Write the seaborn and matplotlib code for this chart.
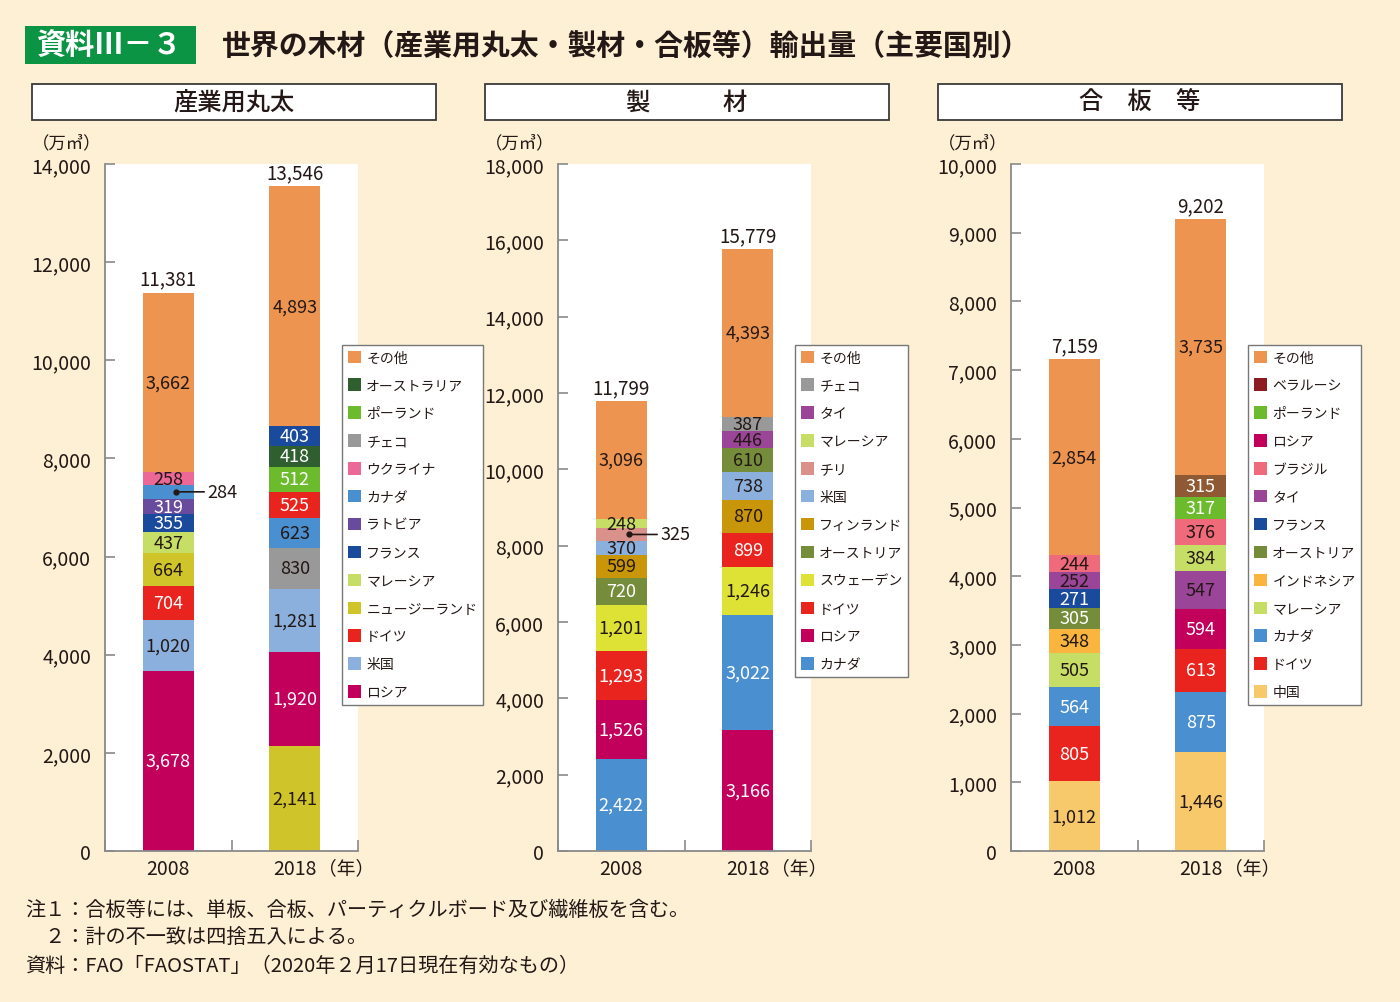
import matplotlib
matplotlib.use('Agg')
import pandas as pd
import seaborn as sns
import matplotlib.pyplot as plt
from matplotlib.patches import Rectangle, Patch
from matplotlib.ticker import FuncFormatter

sns.set_theme(style='white')
plt.rcParams['font.family'] = ['Noto Sans CJK JP', 'DejaVu Sans']

years = ['2008', '2018']

# 産業用丸太（下から順）
log_2008_names = ['ロシア', '米国', 'ドイツ', 'ニュージーランド', 'マレーシア', 'フランス',
                  'ラトビア', 'カナダ', 'ウクライナ', 'その他']
log_2008_vals = [3678, 1020, 704, 664, 437, 355, 319, 284, 258, 3662]
log_2018_names = ['ニュージーランド', 'ロシア', '米国', 'チェコ', 'カナダ', 'ドイツ',
                  'ポーランド', 'オーストラリア', 'フランス', 'その他']
log_2018_vals = [2141, 1920, 1281, 830, 623, 525, 512, 418, 403, 4893]
log_totals = [11381, 13546]
log_legend = ['その他', 'オーストラリア', 'ポーランド', 'チェコ', 'ウクライナ', 'カナダ', 'ラトビア',
              'フランス', 'マレーシア', 'ニュージーランド', 'ドイツ', '米国', 'ロシア']

# 製材
lumber_2008_names = ['カナダ', 'ロシア', 'ドイツ', 'スウェーデン', 'オーストリア', 'フィンランド',
                     '米国', 'チリ', 'マレーシア', 'その他']
lumber_2008_vals = [2422, 1526, 1293, 1201, 720, 599, 370, 325, 248, 3096]
lumber_2018_names = ['ロシア', 'カナダ', 'スウェーデン', 'ドイツ', 'フィンランド', '米国',
                     'オーストリア', 'タイ', 'チェコ', 'その他']
lumber_2018_vals = [3166, 3022, 1246, 899, 870, 738, 610, 446, 387, 4393]
lumber_totals = [11799, 15779]
lumber_legend = ['その他', 'チェコ', 'タイ', 'マレーシア', 'チリ', '米国', 'フィンランド',
                 'オーストリア', 'スウェーデン', 'ドイツ', 'ロシア', 'カナダ']

# 合板等
ply_2008_names = ['中国', 'ドイツ', 'カナダ', 'マレーシア', 'インドネシア', 'オーストリア',
                  'フランス', 'タイ', 'ブラジル', 'その他']
ply_2008_vals = [1012, 805, 564, 505, 348, 305, 271, 252, 244, 2854]
ply_2018_names = ['中国', 'カナダ', 'ドイツ', 'ロシア', 'タイ', 'マレーシア', 'ブラジル',
                  'ポーランド', 'ベラルーシ', 'その他']
ply_2018_vals = [1446, 875, 613, 594, 547, 384, 376, 317, 315, 3735]
ply_totals = [7159, 9202]
ply_legend = ['その他', 'ベラルーシ', 'ポーランド', 'ロシア', 'ブラジル', 'タイ', 'フランス',
              'オーストリア', 'インドネシア', 'マレーシア', 'カナダ', 'ドイツ', '中国']

colors = {
    'その他': '#EC9450', 'オーストラリア': '#2F5F2F', 'ポーランド': '#6CBB2D',
    'チェコ': '#999999', 'ウクライナ': '#EC6897', 'カナダ': '#4A8FCF',
    'ラトビア': '#684B9D', 'フランス': '#1A4A9C', 'マレーシア': '#C7DE66',
    'ニュージーランド': '#CFC52A', 'ドイツ': '#E9241E', '米国': '#8BB0DE',
    'ロシア': '#C2005B', 'タイ': '#9A4597', 'チリ': '#D9918A',
    'フィンランド': '#C99609', 'オーストリア': '#758C3A', 'スウェーデン': '#DDE235',
    'ベラルーシ': '#8F5A33', 'ブラジル': '#EF6A7B', 'インドネシア': '#F9B53D',
    '中国': '#F7C96B',
}
legend_colors = dict(colors, ベラルーシ='#8C1B21')

white_label = {'ロシア', 'ドイツ', 'フランス', 'ラトビア', 'カナダ', 'ポーランド',
               'オーストラリア', 'オーストリア', 'ベラルーシ'}
black_override = {('log', '2018', 'カナダ'), ('lumber', '2018', 'オーストリア')}

BG = '#FDF0D5'
INK = '#231815'
W, H = 1400, 1003

fig = plt.figure(figsize=(14, 10.03), dpi=100, facecolor=BG)


def fx(px):
    return px / W


def fy(py):
    return 1 - py / H


def draw_panel(key, left_px, stacks, totals, ymax, ystep, legend_names, header, callout):
    ax = fig.add_axes([fx(left_px), fy(852), fx(253), 687 / H])
    ax.set_facecolor('white')

    rows = []
    for year, (names, vals) in zip(years, stacks):
        bottom = 0
        for rank, (n, v) in enumerate(zip(names, vals)):
            rows.append(dict(year=year, rank=rank, country=n, value=v,
                             bottom=bottom, top=bottom + v))
            bottom += v
    df = pd.DataFrame(rows)

    # 上の層から順に重ね描き
    for rank in sorted(df['rank'].unique(), reverse=True):
        layer = df[df['rank'] == rank]
        sns.barplot(data=layer, x='year', y='top', hue='country', palette=colors,
                    order=years, dodge=False, width=0.4, saturation=1,
                    errorbar=None, legend=False, linewidth=0, ax=ax)

    for _, r in df.iterrows():
        xi = years.index(r['year'])
        mid = (r['bottom'] + r['top']) / 2
        if (r['year'], r['country']) == callout:
            ax.plot(xi + 0.06, mid, 'o', ms=3.5, color=INK, zorder=5)
            ax.annotate(f"{r['value']:,}", xy=(xi + 0.06, mid), xytext=(xi + 0.31, mid),
                        ha='left', va='center', fontsize=13, color=INK,
                        arrowprops=dict(arrowstyle='-', color=INK, lw=1.2,
                                        shrinkA=0, shrinkB=1))
            continue
        white = r['country'] in white_label and (key, r['year'], r['country']) not in black_override
        ax.text(xi, mid, f"{r['value']:,}", ha='center', va='center', fontsize=13,
                color='white' if white else INK)

    for xi, t in enumerate(totals):
        ax.annotate(f'{t:,}', xy=(xi, t), xytext=(0, 2), textcoords='offset points',
                    ha='center', va='bottom', fontsize=13.5, color=INK)

    ax.set_xlim(-0.5, 1.5)
    ax.set_ylim(0, ymax)
    ax.set_yticks(range(0, ymax + 1, ystep))
    ax.yaxis.set_major_formatter(FuncFormatter(lambda v, p: f'{int(v):,}'))
    ax.set_xticks([0, 1])
    ax.set_xticklabels(years)
    ax.set_xticks([-0.5, 0.5, 1.5], minor=True)
    ax.set_xlabel('')
    ax.set_ylabel('')
    sns.despine(ax=ax)
    for s in ('left', 'bottom'):
        ax.spines[s].set_color('#8A8A8A')
        ax.spines[s].set_linewidth(1.3)
    ax.tick_params(axis='y', direction='in', length=7, width=1.2, color='#8A8A8A',
                   labelsize=14, labelcolor=INK, pad=10, left=True)
    ax.tick_params(axis='x', which='major', length=0, labelsize=14, labelcolor=INK, pad=5)
    ax.tick_params(axis='x', which='minor', direction='in', length=8, width=1.2,
                   color='#8A8A8A', bottom=True)

    ax.text(1.41, -0.024, '（年）', transform=ax.get_xaxis_transform(), ha='center',
            va='center', fontsize=13.5, color=INK)
    ax.text(-0.15, 1.032, '（万㎥）', transform=ax.transAxes, ha='center', va='center',
            fontsize=12.5, color=INK)

    handles = [Patch(facecolor=legend_colors[n], edgecolor='none') for n in legend_names]
    leg = fig.legend(handles, legend_names, loc='upper left',
                     bbox_to_anchor=(fx(left_px + 237), fy(346)), fontsize=10,
                     frameon=True, fancybox=False, framealpha=1, edgecolor='#777777',
                     handlelength=1.0, handleheight=1.0, handletextpad=0.35,
                     labelspacing=1.0, borderpad=0.4, borderaxespad=0)
    leg.get_frame().set_linewidth(1.0)
    for txt in leg.get_texts():
        txt.set_color(INK)

    hx = left_px - 73
    fig.add_artist(Rectangle((fx(hx), fy(121)), fx(404), 36 / H, transform=fig.transFigure,
                             facecolor='white', edgecolor='#3A3A3A', lw=1.3))
    fig.text(fx(hx + 202), fy(103), header, ha='center', va='center', fontsize=17.5,
             fontweight='medium', color=INK)


draw_panel('log', 105, [(log_2008_names, log_2008_vals), (log_2018_names, log_2018_vals)],
           log_totals, 14000, 2000, log_legend, '産業用丸太', ('2008', 'カナダ'))
draw_panel('lumber', 558, [(lumber_2008_names, lumber_2008_vals),
                           (lumber_2018_names, lumber_2018_vals)],
           lumber_totals, 18000, 2000, lumber_legend, '製　　　材', ('2008', 'チリ'))
draw_panel('ply', 1011, [(ply_2008_names, ply_2008_vals), (ply_2018_names, ply_2018_vals)],
           ply_totals, 10000, 1000, ply_legend, '合　板　等', None)

# タイトル
fig.add_artist(Rectangle((fx(25), fy(65)), fx(171), 38 / H, transform=fig.transFigure,
                         facecolor='#0B9444', edgecolor='none'))
fig.text(fx(110), fy(46), '資料Ⅲ－３', ha='center', va='center', fontsize=21,
         fontweight='bold', color='white')
fig.text(fx(222), fy(46), '世界の木材（産業用丸太・製材・合板等）輸出量（主要国別）',
         ha='left', va='center', fontsize=20.8, fontweight='bold', color=INK)

# 注記
notes = ['注１：合板等には、単板、合板、パーティクルボード及び繊維板を含む。',
         '　２：計の不一致は四捨五入による。',
         '資料：FAO「FAOSTAT」（2020年２月17日現在有効なもの）']
for i, line in enumerate(notes):
    fig.text(fx(25), fy(910 + 28 * i), line, ha='left', va='center', fontsize=14.5, color=INK)

fig.savefig('out.png', dpi=100, facecolor=BG)
